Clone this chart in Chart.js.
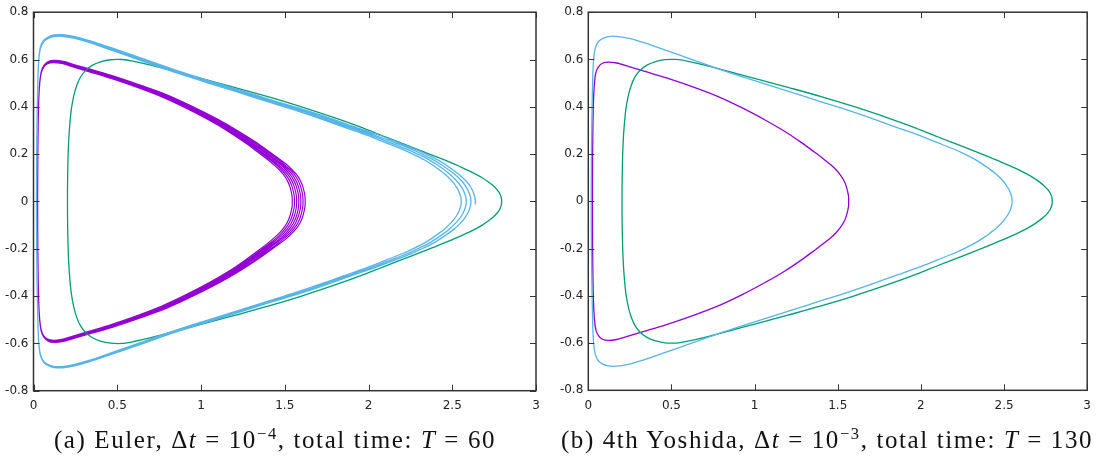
<!DOCTYPE html>
<html>
<head>
<meta charset="utf-8">
<script src="https://cdn.jsdelivr.net/npm/chart.js@4.4.1/dist/chart.umd.min.js"></script>
<style>
    body { margin: 0; background: #fff; width: 1099px; height: 459px; position: relative; overflow: hidden; }
    canvas { position: absolute; top: 0; }
    #chartA { left: 0; }
    #chartB { left: 549px; }
    .cap { position: absolute; top: 426px; font-family: "Liberation Serif", serif; font-size: 25px; letter-spacing: 1.6px;
           color: #111; white-space: nowrap; transform: translateX(-50%); }
    .cap sup { font-size: 0.66em; line-height: 0; }
</style>
</head>
<body>
<canvas id="chartA" width="548" height="430"></canvas>
<canvas id="chartB" width="550" height="430"></canvas>
<div class="cap" style="left:275px">(a) Euler, Δ<i>t</i> = 10<sup>−4</sup>, total time: <i>T</i> = 60</div>
<div class="cap" style="left:827px">(b) 4th Yoshida, Δ<i>t</i> = 10<sup>−3</sup>, total time: <i>T</i> = 130</div>
<script>
// axis ticks
var xTicks = [0, 0.5, 1, 1.5, 2, 2.5, 3];
var yTicks = [-0.8, -0.6, -0.4, -0.2, 0, 0.2, 0.4, 0.6, 0.8];

// orbits are symmetric about y = 0: each list is the upper half, tip first, then towards the left side

// (b) 4th Yoshida, one closed orbit per colour
var yoshidaPurpleX = [1.566, 1.565, 1.56, 1.55, 1.535, 1.515, 1.49, 1.46, 1.42, 1.36, 1.28, 1.18, 1.06, 0.92, 0.77, 0.62, 0.47, 0.34, 0.24, 0.17, 0.12, 0.085, 0.062, 0.046, 0.037, 0.031, 0.028, 0.026, 0.025];
var yoshidaPurpleY = [0, 0.02, 0.04, 0.066, 0.09, 0.112, 0.133, 0.153, 0.176, 0.208, 0.249, 0.296, 0.345, 0.397, 0.446, 0.486, 0.522, 0.55, 0.571, 0.585, 0.589, 0.584, 0.57, 0.545, 0.5, 0.42, 0.32, 0.2, 0.07];
var yoshidaBlueX = [2.549, 2.546, 2.538, 2.525, 2.505, 2.48, 2.45, 2.415, 2.375, 2.33, 2.27, 2.2, 2.1, 1.986, 1.85, 1.7, 1.55, 1.4, 1.2, 1.0, 0.8, 0.6, 0.45, 0.33, 0.24, 0.17, 0.12, 0.085, 0.06, 0.042, 0.032, 0.027, 0.024, 0.021, 0.019, 0.018];
var yoshidaBlueY = [0, 0.018, 0.036, 0.055, 0.076, 0.096, 0.116, 0.135, 0.155, 0.175, 0.197, 0.22, 0.248, 0.28, 0.314, 0.352, 0.388, 0.421, 0.466, 0.51, 0.556, 0.606, 0.643, 0.672, 0.69, 0.698, 0.697, 0.688, 0.675, 0.648, 0.6, 0.53, 0.44, 0.33, 0.2, 0.07];
var yoshidaGreenX = [2.79, 2.787, 2.778, 2.762, 2.74, 2.71, 2.675, 2.625, 2.56, 2.48, 2.386, 2.25, 2.1, 1.95, 1.8, 1.6, 1.4, 1.2, 1.0, 0.85, 0.7, 0.6, 0.53, 0.46, 0.4, 0.35, 0.31, 0.28, 0.258, 0.24, 0.226, 0.216, 0.209, 0.205, 0.203];
var yoshidaGreenY = [0, 0.018, 0.034, 0.05, 0.066, 0.083, 0.1, 0.12, 0.142, 0.167, 0.194, 0.232, 0.273, 0.315, 0.353, 0.4, 0.443, 0.482, 0.52, 0.548, 0.576, 0.592, 0.6, 0.599, 0.59, 0.575, 0.553, 0.525, 0.49, 0.445, 0.39, 0.32, 0.24, 0.15, 0.05];

// (a) Euler, the orbit drifts outwards a little on every turn (one row per turn)
var eulerPurpleX = [
    [1.545, 1.544, 1.539, 1.529, 1.514, 1.494, 1.470, 1.440, 1.401, 1.342, 1.264, 1.165, 1.047, 0.909, 0.760, 0.612, 0.464, 0.335, 0.236, 0.168, 0.118, 0.084, 0.061, 0.046, 0.037, 0.031, 0.028, 0.026, 0.025],
    [1.558, 1.557, 1.552, 1.542, 1.527, 1.507, 1.482, 1.453, 1.413, 1.353, 1.274, 1.174, 1.055, 0.916, 0.766, 0.617, 0.468, 0.338, 0.239, 0.169, 0.119, 0.085, 0.062, 0.046, 0.037, 0.031, 0.028, 0.026, 0.025],
    [1.571, 1.570, 1.565, 1.555, 1.540, 1.520, 1.495, 1.465, 1.425, 1.364, 1.284, 1.184, 1.063, 0.923, 0.772, 0.622, 0.472, 0.341, 0.241, 0.171, 0.120, 0.085, 0.062, 0.046, 0.037, 0.031, 0.028, 0.026, 0.025],
    [1.584, 1.583, 1.578, 1.568, 1.553, 1.533, 1.508, 1.477, 1.436, 1.375, 1.294, 1.193, 1.071, 0.930, 0.778, 0.627, 0.475, 0.344, 0.243, 0.172, 0.121, 0.086, 0.063, 0.046, 0.037, 0.031, 0.028, 0.026, 0.025],
    [1.596, 1.595, 1.590, 1.580, 1.565, 1.545, 1.519, 1.488, 1.447, 1.386, 1.303, 1.201, 1.079, 0.936, 0.784, 0.631, 0.479, 0.347, 0.245, 0.174, 0.122, 0.087, 0.063, 0.047, 0.037, 0.031, 0.028, 0.026, 0.025],
    [1.609, 1.608, 1.603, 1.593, 1.578, 1.558, 1.532, 1.500, 1.459, 1.397, 1.314, 1.210, 1.087, 0.943, 0.790, 0.636, 0.483, 0.350, 0.247, 0.175, 0.123, 0.087, 0.063, 0.047, 0.037, 0.031, 0.028, 0.026, 0.025],
    [1.622, 1.621, 1.616, 1.606, 1.591, 1.571, 1.544, 1.513, 1.470, 1.408, 1.324, 1.219, 1.095, 0.950, 0.796, 0.641, 0.487, 0.353, 0.250, 0.177, 0.124, 0.088, 0.064, 0.047, 0.038, 0.031, 0.028, 0.026, 0.025]
];
var eulerPurpleY = [
    [0, 0.020, 0.040, 0.066, 0.090, 0.112, 0.132, 0.152, 0.175, 0.207, 0.248, 0.295, 0.344, 0.395, 0.444, 0.484, 0.520, 0.548, 0.569, 0.583, 0.587, 0.582, 0.568, 0.543, 0.498, 0.418, 0.319, 0.199, 0.070],
    [0, 0.020, 0.040, 0.066, 0.090, 0.112, 0.133, 0.153, 0.176, 0.208, 0.249, 0.296, 0.344, 0.396, 0.445, 0.485, 0.521, 0.549, 0.570, 0.584, 0.588, 0.583, 0.569, 0.544, 0.499, 0.419, 0.319, 0.200, 0.070],
    [0, 0.020, 0.040, 0.066, 0.090, 0.112, 0.133, 0.153, 0.176, 0.208, 0.249, 0.296, 0.345, 0.397, 0.446, 0.486, 0.523, 0.551, 0.572, 0.586, 0.590, 0.585, 0.571, 0.546, 0.501, 0.420, 0.320, 0.200, 0.070],
    [0, 0.020, 0.040, 0.066, 0.090, 0.112, 0.133, 0.154, 0.177, 0.209, 0.250, 0.297, 0.346, 0.398, 0.448, 0.488, 0.524, 0.552, 0.573, 0.587, 0.591, 0.586, 0.572, 0.547, 0.502, 0.422, 0.321, 0.201, 0.070],
    [0, 0.020, 0.040, 0.066, 0.091, 0.113, 0.134, 0.154, 0.177, 0.209, 0.250, 0.298, 0.347, 0.399, 0.449, 0.489, 0.525, 0.553, 0.574, 0.589, 0.593, 0.588, 0.573, 0.548, 0.503, 0.423, 0.322, 0.201, 0.070],
    [0, 0.020, 0.040, 0.067, 0.091, 0.113, 0.134, 0.154, 0.178, 0.210, 0.251, 0.299, 0.348, 0.400, 0.450, 0.490, 0.527, 0.555, 0.576, 0.590, 0.594, 0.589, 0.575, 0.550, 0.504, 0.424, 0.323, 0.202, 0.071],
    [0, 0.020, 0.040, 0.067, 0.091, 0.113, 0.134, 0.155, 0.178, 0.210, 0.252, 0.299, 0.349, 0.401, 0.451, 0.491, 0.528, 0.556, 0.577, 0.592, 0.596, 0.591, 0.576, 0.551, 0.506, 0.425, 0.324, 0.202, 0.071]
];
var eulerBlueX = [
    [2.554, 2.551, 2.543, 2.530, 2.510, 2.485, 2.455, 2.420, 2.380, 2.335, 2.274, 2.204, 2.104, 1.990, 1.853, 1.703, 1.553, 1.402, 1.202, 1.002, 0.801, 0.601, 0.451, 0.331, 0.240, 0.170, 0.120, 0.085, 0.060, 0.042, 0.032, 0.027, 0.024, 0.021, 0.019, 0.018],
    [2.584, 2.581, 2.573, 2.560, 2.540, 2.514, 2.484, 2.448, 2.407, 2.362, 2.300, 2.229, 2.128, 2.011, 1.873, 1.720, 1.568, 1.415, 1.212, 1.011, 0.809, 0.607, 0.455, 0.334, 0.242, 0.172, 0.121, 0.086, 0.060, 0.042, 0.032, 0.027, 0.024, 0.021, 0.019, 0.018],
    [2.612, 2.609, 2.601, 2.588, 2.568, 2.542, 2.510, 2.474, 2.433, 2.387, 2.325, 2.253, 2.150, 2.031, 1.891, 1.737, 1.582, 1.426, 1.222, 1.019, 0.816, 0.613, 0.459, 0.336, 0.244, 0.173, 0.122, 0.086, 0.061, 0.042, 0.032, 0.027, 0.024, 0.021, 0.019, 0.018],
    [2.638, 2.635, 2.627, 2.614, 2.594, 2.567, 2.535, 2.499, 2.457, 2.410, 2.347, 2.275, 2.171, 2.050, 1.908, 1.752, 1.595, 1.437, 1.231, 1.027, 0.822, 0.618, 0.463, 0.339, 0.246, 0.174, 0.123, 0.087, 0.061, 0.042, 0.032, 0.027, 0.024, 0.021, 0.019, 0.018]
];
var eulerBlueY = [
    [0, 0.018, 0.036, 0.055, 0.076, 0.096, 0.116, 0.135, 0.155, 0.175, 0.197, 0.220, 0.248, 0.280, 0.314, 0.352, 0.388, 0.421, 0.466, 0.510, 0.556, 0.606, 0.643, 0.672, 0.690, 0.698, 0.697, 0.688, 0.675, 0.648, 0.600, 0.530, 0.440, 0.330, 0.200, 0.070],
    [0, 0.018, 0.036, 0.055, 0.076, 0.096, 0.116, 0.136, 0.156, 0.176, 0.198, 0.221, 0.249, 0.281, 0.315, 0.353, 0.390, 0.423, 0.468, 0.512, 0.558, 0.609, 0.646, 0.675, 0.693, 0.701, 0.700, 0.691, 0.678, 0.651, 0.603, 0.532, 0.442, 0.331, 0.201, 0.070],
    [0, 0.018, 0.036, 0.055, 0.077, 0.097, 0.117, 0.136, 0.156, 0.176, 0.198, 0.222, 0.250, 0.282, 0.316, 0.355, 0.391, 0.424, 0.470, 0.514, 0.560, 0.611, 0.648, 0.677, 0.695, 0.703, 0.702, 0.693, 0.680, 0.653, 0.605, 0.534, 0.443, 0.333, 0.202, 0.071],
    [0, 0.018, 0.036, 0.056, 0.077, 0.097, 0.117, 0.136, 0.157, 0.177, 0.199, 0.222, 0.251, 0.283, 0.317, 0.356, 0.392, 0.425, 0.471, 0.515, 0.562, 0.612, 0.650, 0.679, 0.697, 0.705, 0.704, 0.695, 0.682, 0.655, 0.606, 0.536, 0.445, 0.334, 0.202, 0.071]
];
var eulerBlueEnd = [2.637, -0.013]; // the last turn stops just past the tip
var eulerGreenX = [2.795, 2.792, 2.783, 2.767, 2.745, 2.714, 2.679, 2.628, 2.562, 2.482, 2.387, 2.25, 2.1, 1.95, 1.8, 1.6, 1.4, 1.2, 1.0, 0.85, 0.7, 0.6, 0.53, 0.46, 0.4, 0.35, 0.31, 0.28, 0.258, 0.24, 0.226, 0.216, 0.209, 0.205, 0.203];
var eulerGreenY = [0, 0.018, 0.034, 0.05, 0.066, 0.083, 0.1, 0.12, 0.142, 0.167, 0.194, 0.232, 0.273, 0.315, 0.353, 0.4, 0.443, 0.482, 0.52, 0.548, 0.576, 0.592, 0.6, 0.599, 0.59, 0.575, 0.553, 0.525, 0.49, 0.445, 0.39, 0.32, 0.24, 0.15, 0.05];

var PURPLE = '#9400d3', BLUE = '#56b4e9', GREEN = '#009e73';

// one clockwise turn: left side -> top -> tip -> bottom -> left side
function turn(xs, ys, upperOnly) {
    var pts = [];
    for (var i = xs.length - 1; i >= 1; i--) pts.push({ x: xs[i], y: ys[i] });
    pts.push({ x: xs[0], y: 0 });
    if (!upperOnly) {
        for (var j = 1; j < xs.length; j++) pts.push({ x: xs[j], y: -ys[j] });
    }
    return pts;
}
function closed(xs, ys) {
    var pts = turn(xs, ys);
    pts.push(pts[0]);
    return pts;
}
function spiral(xList, yList) {
    var pts = [];
    for (var k = 0; k < xList.length; k++) pts = pts.concat(turn(xList[k], yList[k]));
    return pts;
}

var eulerBluePts = spiral(eulerBlueX.slice(0, 3), eulerBlueY.slice(0, 3))
    .concat(turn(eulerBlueX[3], eulerBlueY[3], true))
    .concat([{ x: eulerBlueEnd[0], y: eulerBlueEnd[1] }]);

function line(data, color, width) {
    return { data: data, showLine: true, borderColor: color, borderWidth: width, pointRadius: 0,
             tension: 0.3, fill: false };
}

// inward tick marks on all four sides plus the frame
var frame = {
    id: 'frame',
    afterDraw: function (chart) {
        var ctx = chart.ctx, a = chart.chartArea, sx = chart.scales.x, sy = chart.scales.y;
        ctx.save();
        ctx.strokeStyle = '#333';
        ctx.lineWidth = 1;
        ctx.beginPath();
        xTicks.forEach(function (v) {
            var p = Math.round(sx.getPixelForValue(v)) + 0.5;
            ctx.moveTo(p, a.bottom); ctx.lineTo(p, a.bottom - 6);
            ctx.moveTo(p, a.top); ctx.lineTo(p, a.top + 6);
        });
        yTicks.forEach(function (v) {
            var p = Math.round(sy.getPixelForValue(v)) + 0.5;
            ctx.moveTo(a.left, p); ctx.lineTo(a.left + 6, p);
            ctx.moveTo(a.right, p); ctx.lineTo(a.right - 6, p);
        });
        ctx.stroke();
        ctx.lineWidth = 1.5;
        ctx.strokeRect(a.left, a.top, a.right - a.left, a.bottom - a.top);
        ctx.restore();
    }
};

function makeChart(id, datasets, yWidth, xHeight, pad) {
    return new Chart(document.getElementById(id), {
        type: 'scatter',
        data: { datasets: datasets },
        options: {
            responsive: false,
            animation: false,
            devicePixelRatio: 1,
            layout: { padding: pad },
            plugins: { legend: { display: false }, tooltip: { enabled: false } },
            scales: {
                x: {
                    type: 'linear', min: 0, max: 3,
                    afterBuildTicks: function (s) { s.ticks = xTicks.map(function (v) { return { value: v }; }); },
                    afterFit: function (s) { s.height = xHeight; },
                    grid: { display: false, drawTicks: false },
                    border: { display: false },
                    ticks: { padding: 8, color: '#222', font: { family: 'DejaVu Sans', size: 12 },
                             maxRotation: 0, callback: function (v) { return String(v); } }
                },
                y: {
                    type: 'linear', min: -0.8, max: 0.8,
                    afterBuildTicks: function (s) { s.ticks = yTicks.map(function (v) { return { value: v }; }); },
                    afterFit: function (s) { s.width = yWidth; },
                    grid: { display: false, drawTicks: false },
                    border: { display: false },
                    ticks: { padding: 5, color: '#222', font: { family: 'DejaVu Sans', size: 12 },
                             callback: function (v) { return String(v); } }
                }
            }
        },
        plugins: [frame]
    });
}

// later datasets are drawn underneath, so blue comes first
makeChart('chartA', [
    line(eulerBluePts, BLUE, 1.3),
    line(closed(eulerGreenX, eulerGreenY), GREEN, 1.3),
    line(spiral(eulerPurpleX, eulerPurpleY), PURPLE, 1.2)
], 33.5, 39.3, { top: 7.5, right: 12, left: 0, bottom: 0 });

makeChart('chartB', [
    line(closed(yoshidaBlueX, yoshidaBlueY), BLUE, 1.3),
    line(closed(yoshidaGreenX, yoshidaGreenY), GREEN, 1.3),
    line(closed(yoshidaPurpleX, yoshidaPurpleY), PURPLE, 1.3)
], 39.3, 39.7, { top: 9, right: 9.7, left: 0, bottom: 0 });
</script>
</body>
</html>
